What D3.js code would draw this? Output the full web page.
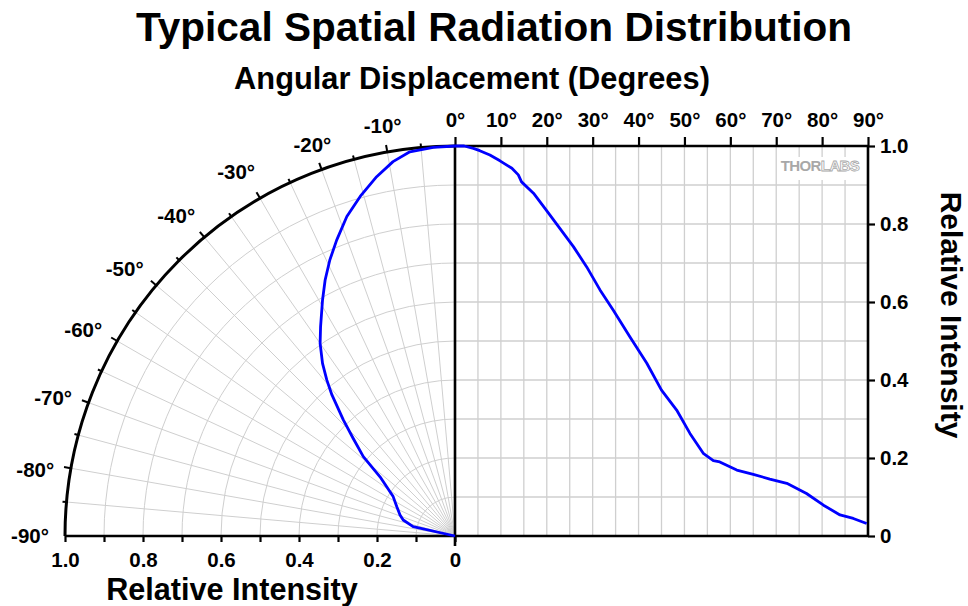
<!DOCTYPE html>
<html>
<head>
<meta charset="utf-8">
<script src="https://cdn.jsdelivr.net/npm/d3@7"></script>
<style>
  html, body { margin: 0; padding: 0; background: #fff; }
  svg { display: block; font-family: "Liberation Sans", Arial, sans-serif; }
</style>
</head>
<body>
<svg id="chart" width="968" height="606"></svg>
<script>
// ---- data ----
// positive side (right panel): angle in degrees, relative intensity
const posAngles = [0, 2, 4, 5.4, 7.6, 9.8, 12.4, 13.8, 14.5, 17.1, 19.6, 20.7, 25.8, 28.7, 31.6, 34.5, 38.1, 41.8, 45.0, 48.3, 51.2, 54.1, 56.3, 57.7, 61.4, 65.0, 68.6, 72.3, 76.6, 80.3, 83.9, 86.8, 89.7];
const posIntensity = [1.0, 1.0, 0.994, 0.988, 0.977, 0.962, 0.943, 0.926, 0.908, 0.879, 0.840, 0.823, 0.742, 0.690, 0.631, 0.579, 0.511, 0.443, 0.374, 0.323, 0.263, 0.212, 0.193, 0.190, 0.169, 0.158, 0.146, 0.135, 0.109, 0.079, 0.054, 0.045, 0.032];
// negative side (polar panel)
const negAngles = [0, -3.2, -6.7, -9.4, -12.3, -15.6, -18.7, -21.8, -24.4, -26.9, -29.3, -32.7, -35.0, -37.5, -39.4, -41.1, -43.9, -46.2, -49.1, -51.7, -54.2, -57.5, -63.3, -69.0, -72.8, -77.4, -78.0];
const negIntensity = [1.0, 0.998, 0.992, 0.973, 0.943, 0.904, 0.865, 0.817, 0.777, 0.736, 0.694, 0.638, 0.603, 0.558, 0.518, 0.480, 0.413, 0.362, 0.311, 0.245, 0.216, 0.188, 0.167, 0.151, 0.139, 0.110, 0.0];

const topTicks = [0, 10, 20, 30, 40, 50, 60, 70, 80, 90];
const polarTickLabels = [-90, -80, -70, -60, -50, -40, -30, -20, -10];
const intensityTicks = [0, 0.2, 0.4, 0.6, 0.8, 1.0];
const intensityMinorTicks = [0, 0.1, 0.2, 0.3, 0.4, 0.5, 0.6, 0.7, 0.8, 0.9, 1.0];

const title = "Typical Spatial Radiation Distribution";
const topAxisTitle = "Angular Displacement (Degrees)";
const intensityTitle = "Relative Intensity";

// ---- layout ----
const svg = d3.select("#chart");
const cx = 455, cy = 536, R = 390;
const xPos = d3.scaleLinear().domain([0, 90]).range([cx, 868]);
const yInt = d3.scaleLinear().domain([0, 1]).range([cy, cy - R]);
const rPol = d3.scaleLinear().domain([0, 1]).range([0, R]);
const xNeg = d3.scaleLinear().domain([0, 1]).range([cx, cx - R]);
const rad = d => d * Math.PI / 180;
const polarPt = (deg, r) => [cx + r * Math.sin(rad(deg)), cy - r * Math.cos(rad(deg))];

const gridColor = "#cfcfcf";
const grid = svg.append("g").attr("stroke", gridColor).attr("stroke-width", 1).attr("fill", "none");

// right panel grid
d3.range(5, 90, 5).forEach(d => {
  grid.append("line").attr("x1", xPos(d)).attr("x2", xPos(d)).attr("y1", yInt(0)).attr("y2", yInt(1))
    .attr("stroke-width", 1.3);
});
d3.range(1, 10).forEach(i => {
  const v = i / 10;
  grid.append("line").attr("x1", xPos(0)).attr("x2", xPos(90)).attr("y1", yInt(v)).attr("y2", yInt(v))
    .attr("stroke-width", 1.3);
});

// polar grid: arcs
d3.range(1, 10).forEach(i => {
  const r = rPol(i / 10);
  const p = d3.path();
  p.moveTo(cx - r, cy);
  p.arc(cx, cy, r, Math.PI, 1.5 * Math.PI);
  grid.append("path").attr("d", p.toString());
});
// polar grid: spokes
d3.range(-85, 0, 5).forEach(d => {
  const [x2, y2] = polarPt(d, R);
  grid.append("line").attr("x1", cx).attr("y1", cy).attr("x2", x2).attr("y2", y2);
});

// THORLABS logo
const logo = svg.append("g");
logo.append("rect").attr("x", 779).attr("y", 157).attr("width", 84).attr("height", 23).attr("fill", "#fff");
const lt = logo.append("text").attr("x", 820).attr("y", 171).attr("text-anchor", "middle")
  .attr("font-size", 15).attr("font-weight", "bold").attr("letter-spacing", -0.6);
lt.append("tspan").attr("fill", "#a8a8a8").text("THOR");
lt.append("tspan").attr("fill", "#fff").attr("stroke", "#a8a8a8").attr("stroke-width", 0.8).text("LABS");

// ---- axes ----
const axW = 2.6;
const frame = svg.append("g").attr("stroke", "#000").attr("stroke-width", axW).attr("fill", "none");
frame.append("line").attr("x1", xNeg(1)).attr("x2", xPos(90)).attr("y1", cy).attr("y2", cy);
frame.append("line").attr("x1", cx).attr("x2", cx).attr("y1", yInt(0) + 10).attr("y2", yInt(1));
frame.append("line").attr("x1", cx).attr("x2", xPos(90)).attr("y1", yInt(1)).attr("y2", yInt(1));
frame.append("line").attr("x1", xPos(90)).attr("x2", xPos(90)).attr("y1", yInt(0)).attr("y2", yInt(1));
// outer polar arc
{
  const p = d3.path();
  p.moveTo(cx - R, cy);
  p.arc(cx, cy, R, Math.PI, 1.5 * Math.PI);
  frame.append("path").attr("d", p.toString()).attr("stroke-width", 3);
}
// polar ticks
d3.range(-85, 0, 5).forEach(d => {
  const major = d % 10 === 0;
  const [x1, y1] = polarPt(d, R - 1);
  const [x2, y2] = polarPt(d, R + (major ? 7 : 4));
  frame.append("line").attr("x1", x1).attr("y1", y1).attr("x2", x2).attr("y2", y2).attr("stroke-width", 2);
});

const tickFont = 20.5;
function styleAxis(g) {
  g.select(".domain").remove();
  g.selectAll(".tick line").attr("stroke", "#000").attr("stroke-width", 2.2);
  g.selectAll(".tick text").attr("fill", "#000").attr("font-size", tickFont).attr("font-weight", "bold")
    .attr("font-family", "'Liberation Sans', Arial, sans-serif");
}

// top axis (degrees)
svg.append("g").attr("transform", `translate(0,${yInt(1)})`)
  .call(d3.axisTop(xPos).tickValues(topTicks).tickSize(9).tickSizeOuter(0).tickPadding(10)
    .tickFormat(d => d + "°"))
  .call(styleAxis);

// right axis (intensity)
svg.append("g").attr("transform", `translate(${xPos(90)},0)`)
  .call(d3.axisRight(yInt).tickValues(intensityTicks).tickSize(7).tickSizeOuter(0).tickPadding(5)
    .tickFormat(d => d === 0 ? "0" : d.toFixed(1)))
  .call(styleAxis);

// bottom-left axis (polar radius)
svg.append("g").attr("transform", `translate(0,${cy})`)
  .call(d3.axisBottom(xNeg).tickValues(intensityMinorTicks).tickSize(6).tickSizeOuter(0).tickPadding(10)
    .tickFormat(d => intensityTicks.some(t => Math.abs(t - d) < 1e-9) ? (d === 0 ? "0" : d.toFixed(1)) : ""))
  .call(styleAxis);

// polar angle labels
const polarLabels = svg.append("g").attr("font-size", tickFont).attr("font-weight", "bold").attr("fill", "#000")
  .attr("text-anchor", "middle");
polarTickLabels.forEach(d => {
  const a = Math.abs(d);
  const rl = a <= 20 ? R + 27 : R + 35;
  const shift = (a >= 30 && a <= 80) ? 1.0 : 0;
  const [x, y] = polarPt(d - shift, rl);
  polarLabels.append("text").attr("x", x).attr("y", y).attr("dy", "0.36em").text(d + "°");
});

// ---- data lines ----
const linePos = d3.line().x((d, i) => xPos(posAngles[i])).y((d, i) => yInt(posIntensity[i]));
svg.append("path").datum(posAngles).attr("d", linePos)
  .attr("fill", "none").attr("stroke", "#0000ff").attr("stroke-width", 2.8).attr("stroke-linejoin", "round");

const lineNeg = d3.lineRadial().angle((d, i) => rad(negAngles[i])).radius((d, i) => rPol(negIntensity[i]));
svg.append("path").datum(negAngles).attr("d", lineNeg).attr("transform", `translate(${cx},${cy})`)
  .attr("fill", "none").attr("stroke", "#0000ff").attr("stroke-width", 2.8).attr("stroke-linejoin", "round");

// ---- titles ----
svg.append("text").attr("x", 494).attr("y", 41).attr("text-anchor", "middle")
  .attr("font-size", 40.6).attr("font-weight", "bold").attr("fill", "#000").text(title);
svg.append("text").attr("x", 472).attr("y", 89).attr("text-anchor", "middle")
  .attr("font-size", 30.8).attr("font-weight", "bold").attr("fill", "#000").text(topAxisTitle);
svg.append("text").attr("x", 232).attr("y", 600).attr("text-anchor", "middle")
  .attr("font-size", 30.6).attr("font-weight", "bold").attr("fill", "#000").text(intensityTitle);
svg.append("text").attr("transform", "translate(941,315) rotate(90)").attr("text-anchor", "middle")
  .attr("font-size", 30).attr("font-weight", "bold").attr("fill", "#000").text(intensityTitle);
</script>
</body>
</html>
